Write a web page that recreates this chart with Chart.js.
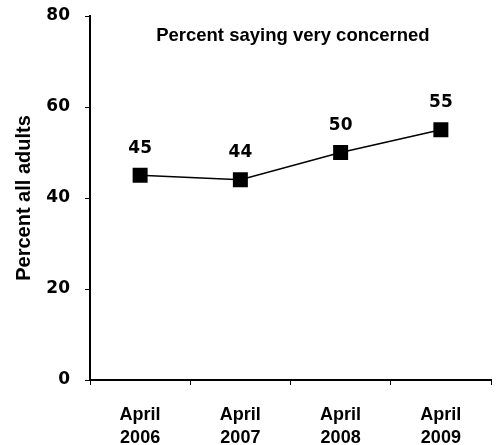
<!DOCTYPE html>
<html>
<head>
<meta charset="utf-8">
<style>
html,body{margin:0;padding:0;background:#fff;}
#wrap{width:498px;height:445px;position:relative;}
</style>
<script src="https://cdn.jsdelivr.net/npm/chart.js@4/dist/chart.umd.min.js"></script>
</head>
<body>
<div id="wrap"><canvas id="c" width="498" height="445"></canvas></div>
<script>
const categories = [['April','2006'],['April','2007'],['April','2008'],['April','2009']];
const values = [45, 44, 50, 55];
const yMin = 0, yMax = 80, yStep = 20;
const chartTitle = 'Percent saying very concerned';
const yAxisTitle = 'Percent all adults';

const TXT = "'Liberation Sans', Arial, sans-serif";
const NUM = "'DejaVu Sans', sans-serif";

const labelPlugin = {
  id: 'valueLabels',
  afterDatasetsDraw(chart) {
    const ctx = chart.ctx;
    const meta = chart.getDatasetMeta(0);
    ctx.save();
    ctx.fillStyle = '#000';
    ctx.font = "bold 17px " + NUM;
    ctx.textAlign = 'center';
    ctx.textBaseline = 'middle';
    meta.data.forEach((pt, i) => {
      ctx.fillText(String(values[i]), pt.x, pt.y - 27);
    });
    ctx.restore();
  }
};

const titlePlugin = {
  id: 'innerTitle',
  afterDraw(chart) {
    const ctx = chart.ctx;
    const a = chart.chartArea;
    ctx.save();
    ctx.fillStyle = '#000';
    ctx.font = "bold 18.5px " + TXT;
    ctx.textAlign = 'center';
    ctx.textBaseline = 'middle';
    ctx.fillText(chartTitle, a.left + (a.right - a.left) * 0.506, a.top + 20);
    ctx.restore();
  }
};

new Chart(document.getElementById('c'), {
  type: 'line',
  data: {
    labels: categories,
    datasets: [{
      data: values,
      borderColor: '#000',
      backgroundColor: '#000',
      borderWidth: 1.5,
      pointStyle: 'rect',
      pointRadius: 10.6,
      pointBorderWidth: 0,
      pointBackgroundColor: '#000',
      tension: 0
    }]
  },
  options: {
    responsive: false,
    animation: false,
    devicePixelRatio: 1,
    layout: { autoPadding: false, padding: { left: 0, right: 7, top: 16, bottom: 0 } },
    plugins: { legend: { display: false }, tooltip: { enabled: false } },
    scales: {
      x: {
        offset: true,
        grid: { display: true, offset: true, drawOnChartArea: false, drawTicks: true, tickLength: 5, color: '#000', lineWidth: 1 },
        border: { display: true, color: '#000', width: 2 },
        ticks: { color: '#000', font: { family: TXT, size: 18, weight: 'bold', lineHeight: 1.25 }, padding: 19, maxRotation: 0, autoSkip: false },
        afterFit(s) { s.height = 65; s.paddingLeft = 0; s.paddingRight = 0; }
      },
      y: {
        min: yMin, max: yMax,
        grid: { display: true, drawOnChartArea: false, drawTicks: true, tickLength: 5, color: '#000', lineWidth: 1 },
        border: { display: true, color: '#000', width: 2 },
        ticks: { stepSize: yStep, color: '#000', font: { family: NUM, size: 17, weight: 'bold' }, padding: 15 },
        title: { display: true, text: yAxisTitle, color: '#000', font: { family: TXT, size: 20, weight: 'bold' }, padding: { top: 12, bottom: 0 } },
        afterFit(s) { s.width = 90; s.paddingTop = 0; s.paddingBottom = 0; }
      }
    }
  },
  plugins: [labelPlugin, titlePlugin]
});
</script>
</body>
</html>
